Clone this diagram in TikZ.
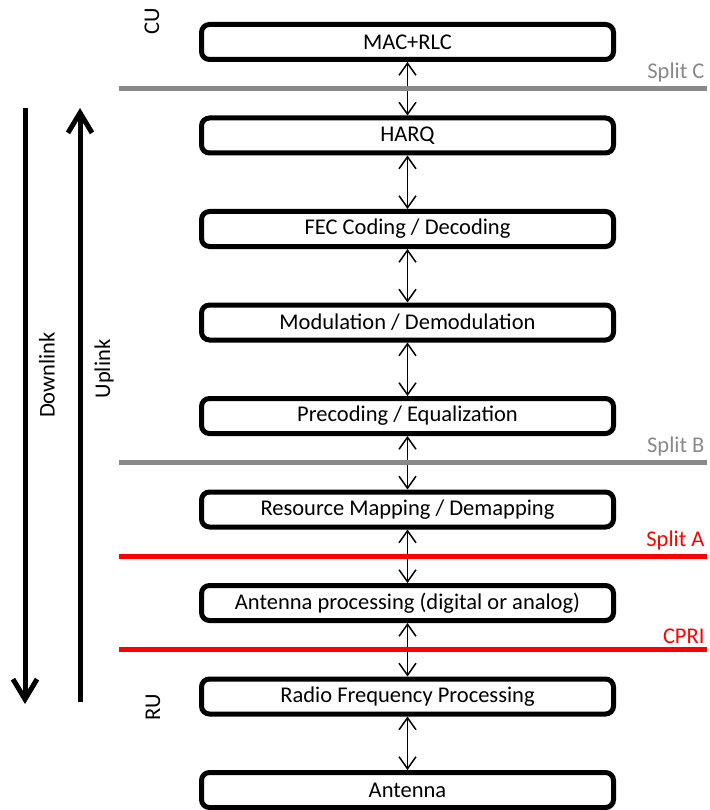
\documentclass[tikz,border=0pt]{standalone}
\usepackage{fontspec}
\setmainfont{Carlito}
\usepackage{xcolor}
\definecolor{splitgray}{HTML}{898989}
\definecolor{splitred}{HTML}{FF0000}
\usepackage{tikz}
\usetikzlibrary{arrows.meta, positioning, calc}
\tikzstyle{block} = [
  rectangle, rounded corners=8pt, minimum width=412pt, minimum height=35pt,
  draw=black, line width=5pt, fill=white, inner sep=0pt
]
\tikzstyle{link} = [
  {Straight Barb[length=12pt,width=17pt]}-{Straight Barb[length=12pt,width=17pt]},
  line width=1.5pt, color=black
]
\tikzstyle{splitline} = [line width=5pt]
\tikzstyle{splitlabel} = [anchor=south east, inner xsep=0pt, inner ysep=4pt]
\tikzstyle{dirarrow} = [
  -{Straight Barb[length=20pt,width=24pt]}, line width=5pt, color=black
]
\tikzstyle{sidelabel} = [rotate=90, inner sep=0pt]

\begin{document}
\begin{tikzpicture}[x=1pt, y=-1pt, node distance=53.5pt,
                    every node/.style={font=\fontsize{22.5}{27}\selectfont}]

  \useasboundingbox (0,0) rectangle (709,810);

  \node[block] at (407.5,42) (mac)   {MAC+RLC};
  \node[block, below=of mac]     (harq)    {HARQ};
  \node[block, below=of harq]    (fec)     {FEC Coding / Decoding};
  \node[block, below=of fec]     (modu)    {Modulation / Demodulation};
  \node[block, below=of modu]    (precod)  {Precoding / Equalization};
  \node[block, below=of precod]  (remap)   {Resource Mapping / Demapping};
  \node[block, below=of remap]   (antproc) {Antenna processing (digital or analog)};
  \node[block, below=of antproc] (rfproc)  {Radio Frequency Processing};
  \node[block, below=of rfproc]  (antenna) {Antenna};

  \draw[link] (mac.south)     -- (harq.north);
  \draw[link] (harq.south)    -- (fec.north);
  \draw[link] (fec.south)     -- (modu.north);
  \draw[link] (modu.south)    -- (precod.north);
  \draw[link] (precod.south)  -- (remap.north);
  \draw[link] (remap.south)   -- (antproc.north);
  \draw[link] (antproc.south) -- (rfproc.north);
  \draw[link] (rfproc.south)  -- (antenna.north);

  % split levels
  \coordinate (leftend)  at (119,0);
  \coordinate (rightend) at (707,0);
  \coordinate (splitc) at ($(mac.south)!0.5!(harq.north)$);
  \coordinate (splitb) at ($(precod.south)!0.5!(remap.north)$);
  \coordinate (splita) at ($(remap.south)!0.5!(antproc.north)$);
  \coordinate (cpri)   at ($(antproc.south)!0.5!(rfproc.north)$);

  \draw[splitline, splitgray] (leftend |- splitc) -- (rightend |- splitc)
    node[splitlabel, text=splitgray] (splitclabel) {Split C};
  \draw[splitline, splitgray] (leftend |- splitb) -- (rightend |- splitb)
    node[splitlabel, text=splitgray] (splitblabel) {Split B};
  \draw[splitline, splitred] (leftend |- splita) -- (rightend |- splita)
    node[splitlabel, text=splitred] (splitalabel) {Split A};
  \draw[splitline, splitred] (leftend |- cpri) -- (rightend |- cpri)
    node[splitlabel, text=splitred] (cprilabel) {CPRI};

  % downlink / uplink
  \coordinate (dltop) at (25,108);
  \coordinate (dlbot) at (25,704);
  \coordinate (ulbot) at (80,702);
  \coordinate (ultop) at (80,108);
  \draw[dirarrow] (dltop) -- (dlbot);
  \draw[dirarrow] (ulbot) -- (ultop);
  \node[sidelabel] at (47,375)  (downlink) {Downlink};
  \node[sidelabel] at (104,369) (uplink)   {Uplink};

  \node[sidelabel] at (152,21)  (cu) {CU};
  \node[sidelabel] at (153,707) (ru) {RU};

\end{tikzpicture}
\end{document}
